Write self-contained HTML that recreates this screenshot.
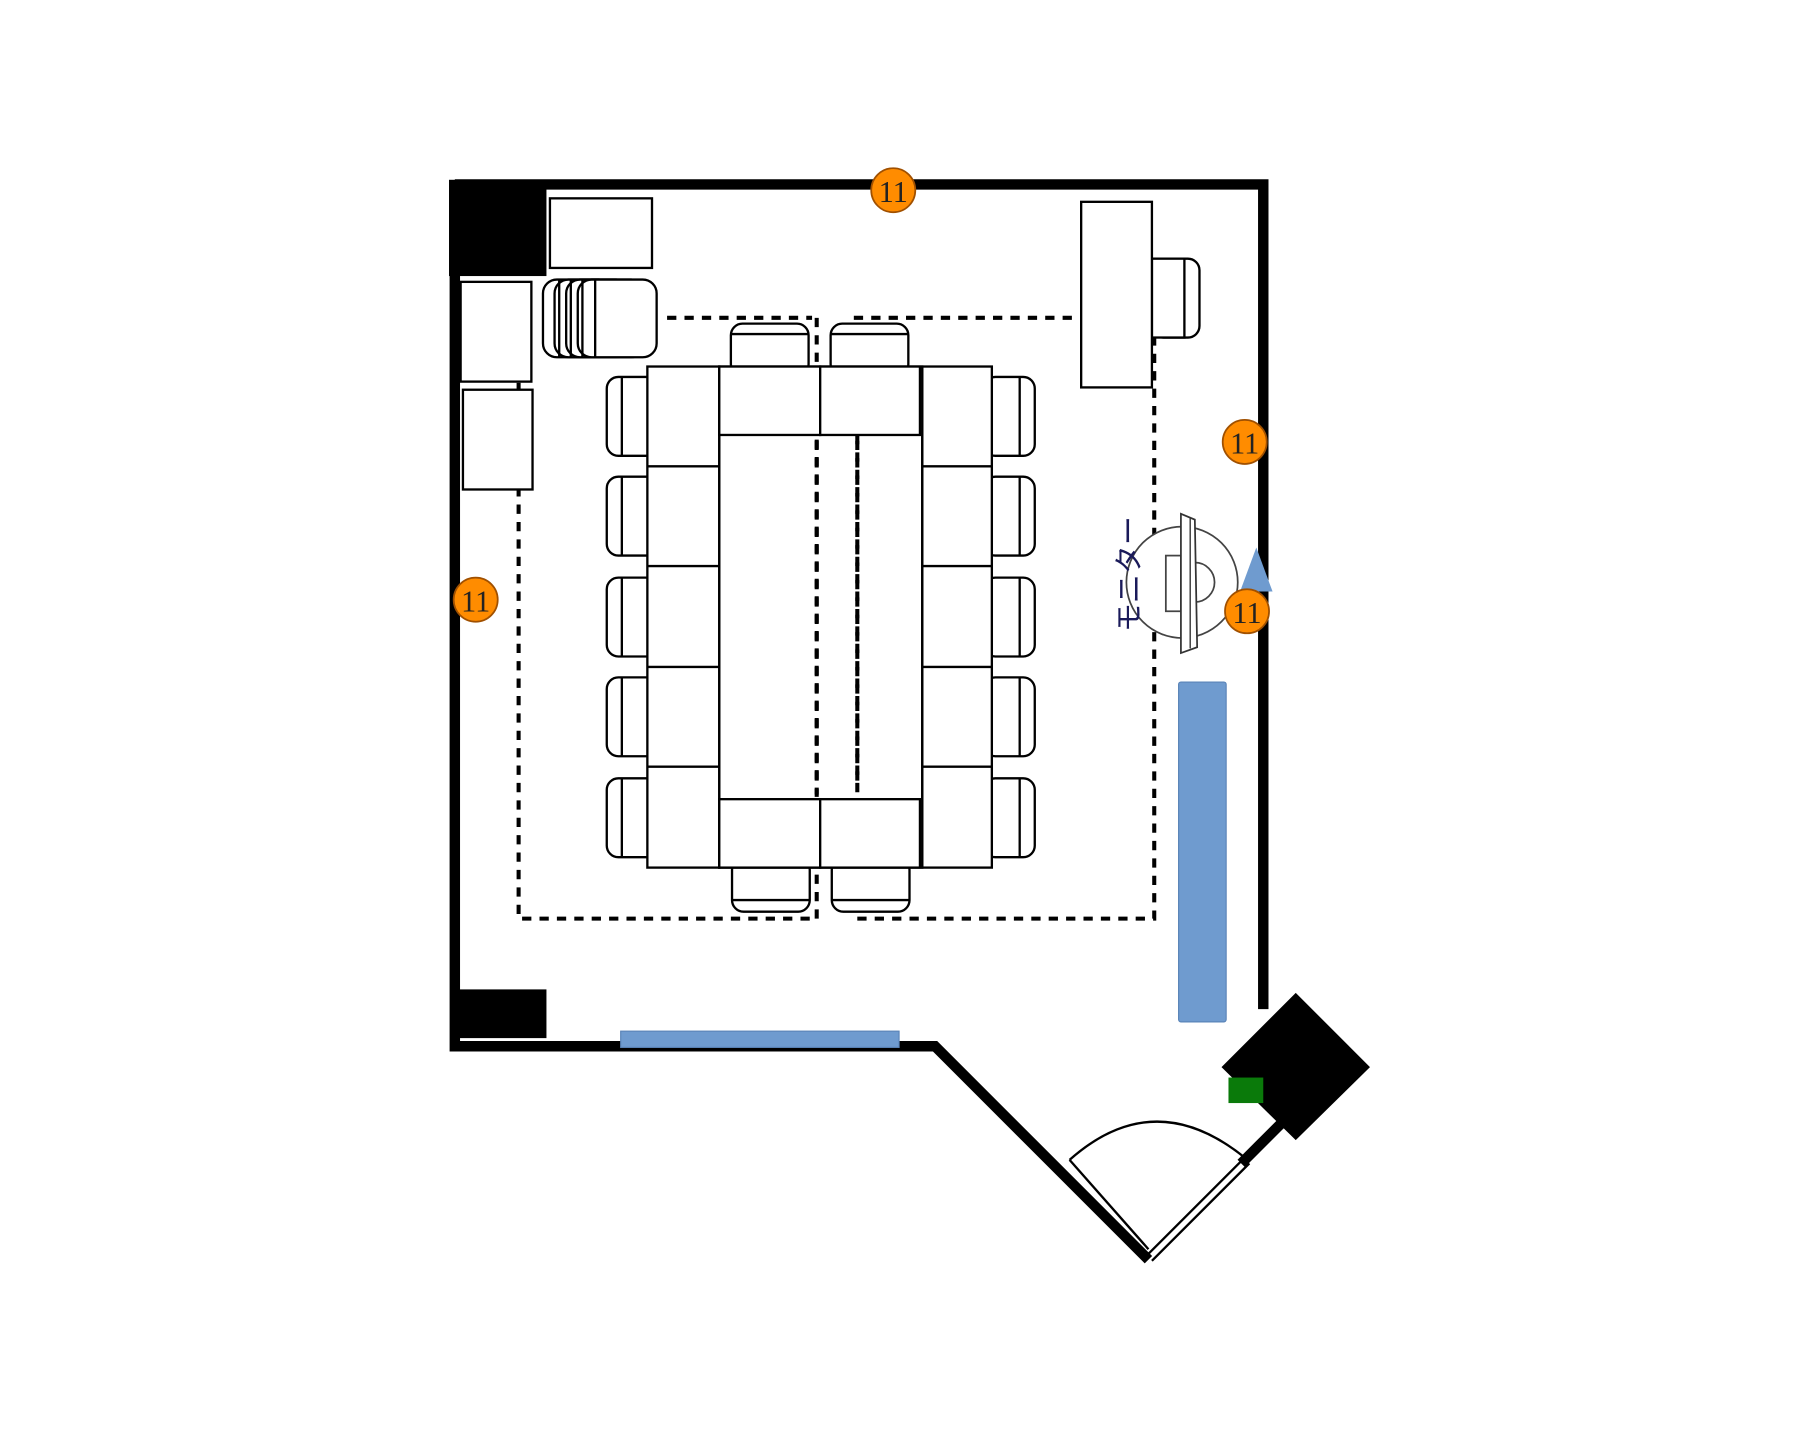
<!DOCTYPE html>
<html><head><meta charset="utf-8"><style>html,body{margin:0;padding:0;background:#fff}svg{display:block}</style></head><body>
<svg width="1819" height="1429" viewBox="0 0 1568 1232" xmlns="http://www.w3.org/2000/svg" font-family="Liberation Sans, Noto Sans CJK JP, sans-serif">
<g fill="none" stroke="#000">
<g stroke-width="3.5" stroke-dasharray="8,7">
<path d="M447 330 V792 H704"/>
<path d="M739 792 H995 V290"/>
<path d="M575 274 H700 M736 274 H930"/>
<path d="M704 274 V792 M739 375 V690"/>
</g>
<path d="M392 159 H1089 V870" stroke-width="9"/>
<path d="M392 159 V902 H806 L990 1086" stroke-width="9" stroke-linejoin="miter"/>
<path d="M1070 1003 L1105 968" stroke-width="9"/>
</g>
<rect x="387" y="155" width="84" height="83" fill="#000"/>
<rect x="392" y="853" width="79" height="42" fill="#000"/>
<rect x="535" y="889" width="240" height="14" fill="#6f9bcf" stroke="#5a84b8"/>
<rect x="1016" y="588" width="41" height="293" rx="2" fill="#6f9bcf" stroke="#5a84b8"/>
<polygon points="1117,856 1181,920 1117,983 1053,920" fill="#000"/>
<rect x="1059" y="929" width="30" height="22" fill="#0a7a0a"/>
<g fill="none" stroke="#000" stroke-width="2">
<path d="M922 1000 Q995 935 1073 998"/>
<path d="M922 1000 L990 1077"/>
<path d="M987 1084 L1071 1000 M993 1087 L1077 1003"/>
</g>
<g fill="#fff" stroke="#000" stroke-width="2">
<rect x="474" y="171" width="88" height="60"/>
<rect x="397" y="243" width="61" height="86"/>
<rect x="399" y="336" width="60" height="86"/>
<rect x="468" y="241" width="60" height="67" rx="12"/>
<rect x="478" y="241" width="65" height="67" rx="12"/>
<rect x="488" y="241" width="68" height="67" rx="12"/>
<rect x="498" y="241" width="68" height="67" rx="12"/>
<path d="M482 241 V308 M492 241 V308 M502 241 V308 M513 241 V308" fill="none"/>
<rect x="993" y="223" width="41" height="68" rx="10"/>
<path d="M1020 223 V291" fill="none"/>
<rect x="993" y="223" width="28" height="68"/>
<rect x="932" y="174" width="61" height="160"/>
<rect x="630" y="279" width="67" height="45" rx="10"/><path d="M630 288 H697" fill="none"/>
<rect x="716" y="279" width="67" height="45" rx="10"/><path d="M716 288 H783" fill="none"/>
<rect x="631" y="740" width="67" height="46" rx="10"/><path d="M631 776 H698" fill="none"/>
<rect x="717" y="740" width="67" height="46" rx="10"/><path d="M717 776 H784" fill="none"/>
</g>
<g fill="#fff" stroke="#000" stroke-width="2">
<g id="lc">
<rect x="523" y="325" width="45" height="68" rx="10"/><path d="M536 325 V393" fill="none"/>
<rect x="848" y="325" width="44" height="68" rx="10"/><path d="M879 325 V393" fill="none"/>
</g>
<use href="#lc" y="86"/><use href="#lc" y="173"/><use href="#lc" y="259"/><use href="#lc" y="346"/>
<rect x="558" y="316" width="62" height="432"/>
<rect x="795" y="316" width="60" height="432"/>
<path d="M558 402 H620 M558 488 H620 M558 575 H620 M558 661 H620 M795 402 H855 M795 488 H855 M795 575 H855 M795 661 H855" fill="none"/>
<rect x="620" y="316" width="175" height="432" fill="none"/>
<rect x="620" y="316" width="87" height="59"/><rect x="707" y="316" width="86" height="59"/>
<rect x="620" y="689" width="87" height="59"/><rect x="707" y="689" width="86" height="59"/>
</g>
<g stroke="#000" stroke-width="3.5" stroke-dasharray="8,7"><path d="M704 380 V685 M739 380 V680"/></g>
<circle cx="1019" cy="502" r="48" fill="#fff" stroke="#444" stroke-width="1.5"/>
<path d="M1030 485 A17 17 0 0 1 1030 519" fill="#fff" stroke="#444" stroke-width="1.5"/>
<rect x="1005" y="479" width="13" height="48" fill="#fff" stroke="#444" stroke-width="1.5"/>
<polygon points="1018,443 1030,448 1032,558 1018,563" fill="#fff" stroke="#333" stroke-width="1.5"/>
<path d="M1026 447 V559" stroke="#333" stroke-width="1.2"/>
<polygon points="1083,472 1097,510 1069,510" fill="#6f9bcf"/>
<text transform="translate(982,495) rotate(-90)" font-size="25" fill="#1a1a5a" text-anchor="middle">モニター</text>
<g fill="#ff8c00" stroke="#a05000" stroke-width="1.5">
<circle cx="770" cy="164" r="19"/><circle cx="1073" cy="381" r="19"/><circle cx="410" cy="517" r="19"/><circle cx="1075" cy="527" r="19"/>
</g>
<g font-size="26" fill="#222" text-anchor="middle" font-family="Liberation Serif, serif">
<text x="770" y="174">11</text><text x="1073" y="391">11</text><text x="410" y="527">11</text><text x="1075" y="537">11</text>
</g>
</svg>
</body></html>
